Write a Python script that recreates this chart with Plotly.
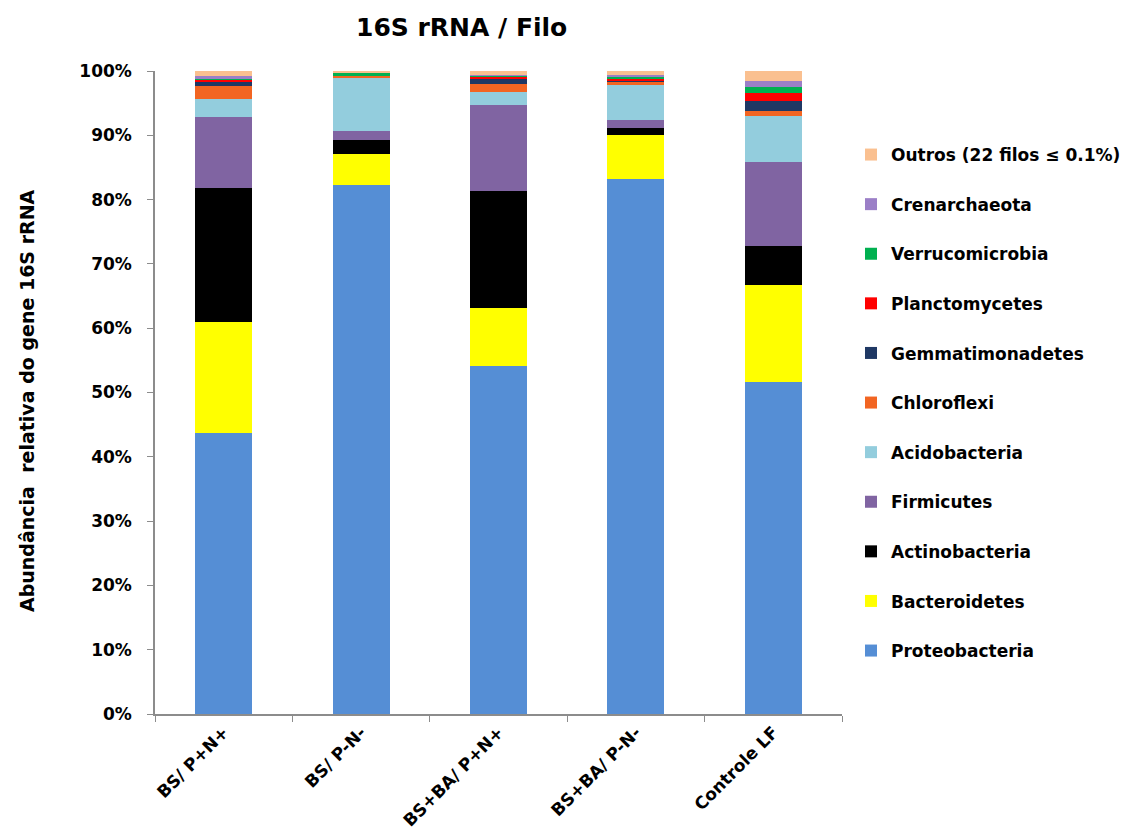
import plotly.graph_objects as go

# Amostras (categorias do eixo X)
amostras = ["BS/ P+N+", "BS/ P-N-", "BS+BA/ P+N+", "BS+BA/ P-N-", "Controle LF"]

# Abundância relativa (%) de cada filo por amostra
proteobacteria   = [43.7, 82.3, 54.1, 83.2, 51.6]
bacteroidetes    = [17.3, 4.8, 9.0, 6.8, 15.1]
actinobacteria   = [20.8, 2.2, 18.3, 1.2, 6.1]
firmicutes       = [11.0, 1.4, 13.3, 1.2, 13.0]
acidobacteria    = [2.8, 8.3, 2.1, 5.4, 7.2]
chloroflexi      = [2.0, 0.2, 1.2, 0.5, 0.8]
gemmatimonadetes = [0.8, 0.0, 0.9, 0.2, 1.6]
planctomycetes   = [0.15, 0.0, 0.2, 0.3, 1.2]
verrucomicrobia  = [0.35, 0.6, 0.2, 0.3, 0.9]
crenarchaeota    = [0.3, 0.0, 0.1, 0.3, 0.9]
outros           = [0.8, 0.2, 0.6, 0.6, 1.6]

series = [
    ("Proteobacteria", proteobacteria, "#558ED5"),
    ("Bacteroidetes", bacteroidetes, "#FFFF00"),
    ("Actinobacteria", actinobacteria, "#000000"),
    ("Firmicutes", firmicutes, "#8064A2"),
    ("Acidobacteria", acidobacteria, "#93CDDD"),
    ("Chloroflexi", chloroflexi, "#F26522"),
    ("Gemmatimonadetes", gemmatimonadetes, "#1F3864"),
    ("Planctomycetes", planctomycetes, "#FF0000"),
    ("Verrucomicrobia", verrucomicrobia, "#00B050"),
    ("Crenarchaeota", crenarchaeota, "#9B7FC7"),
    ("Outros (22 filos \u2264 0.1%)", outros, "#FAC090"),
]

FONT = "DejaVu Sans"
W, H = 1126, 838
L, R, T, B = 155, 284, 71, 124
pw, ph = W - L - R, H - T - B

fig = go.Figure()
n = len(series)
for i, (nome, vals, cor) in enumerate(series):
    fig.add_trace(go.Bar(
        x=amostras, y=vals, name=nome,
        marker=dict(color=cor, line=dict(width=0)),
        legendgroup=f"g{i}",
        legendrank=n - i,
    ))

def px_x(p):
    return (p - L) / pw

def px_y(p):
    return (H - B - p) / ph

fig.update_layout(
    width=W, height=H,
    margin=dict(l=L, r=R, t=T, b=B, autoexpand=False),
    barmode="stack",
    bargap=0.585,
    plot_bgcolor="white",
    paper_bgcolor="white",
    font=dict(family=FONT, color="black"),
    showlegend=True,
    legend=dict(
        x=px_x(851), y=px_y(137), xanchor="left", yanchor="top",
        traceorder="grouped",
        tracegroupgap=24.5,
        font=dict(family=FONT, size=17, weight="bold"),
        itemwidth=30,
        bgcolor="rgba(0,0,0,0)",
    ),
    xaxis=dict(
        showline=True, linecolor="#8c8c8c", linewidth=1.5,
        ticks="outside", tickson="boundaries", ticklen=6, tickcolor="#8c8c8c",
        tickangle=-45,
        tickfont=dict(family=FONT, size=17, weight="bold"),
        showgrid=False,
    ),
    yaxis=dict(
        range=[0, 100],
        tickvals=list(range(0, 101, 10)),
        ticktext=[f"{v}%" for v in range(0, 101, 10)],
        showline=True, linecolor="#8c8c8c", linewidth=1.5,
        ticks="outside", ticklen=6, tickcolor="#8c8c8c",
        ticklabelstandoff=12,
        tickfont=dict(family=FONT, size=17, weight="bold"),
        showgrid=False, zeroline=False,
    ),
    annotations=[
        dict(
            text="16S rRNA / Filo", xref="paper", yref="paper",
            x=px_x(461), y=px_y(28), xanchor="center", yanchor="middle",
            showarrow=False, font=dict(family=FONT, size=25, weight="bold"),
        ),
        dict(
            text="Abund\u00e2ncia  relativa do gene 16S rRNA",
            xref="paper", yref="paper",
            x=px_x(27), y=px_y(401), xanchor="center", yanchor="middle",
            textangle=-90, showarrow=False,
            font=dict(family=FONT, size=19, weight="bold"),
        ),
    ],
)

fig.write_html("out.html")
